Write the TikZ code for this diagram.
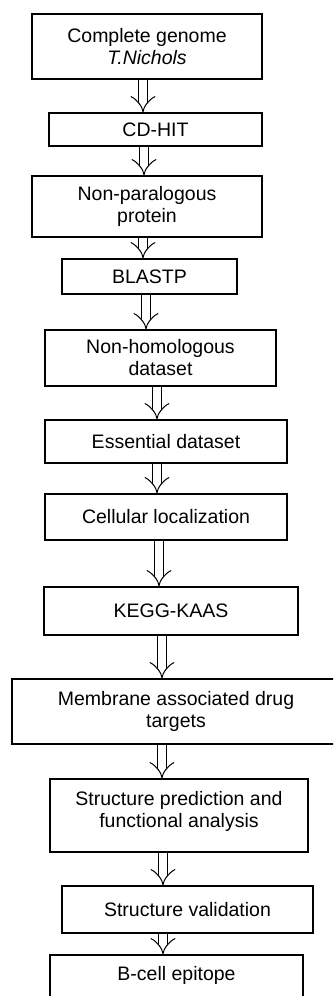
\documentclass[tikz,border=0pt]{standalone}
\usepackage{fontspec}
\setmainfont{Liberation Sans}
\usetikzlibrary{arrows.meta}

\tikzset{
  stepbox/.style={draw, line width=1.1pt, inner sep=0pt, align=center,
    font=\fontsize{19.5}{22}\selectfont},
  flow/.style={double, double distance=8pt, line width=1pt, -{Implies[length=6pt,width=15pt]}}
}

\begin{document}
\begin{tikzpicture}[x=1pt,y=-1pt]
\useasboundingbox (0,0) rectangle (333,996);
\clip (0,0) rectangle (333,996);

%%% boxes
\node[stepbox, minimum width=230, minimum height=65] (genome) at (147,46.5) {Complete genome\\\textit{T.Nichols}};
\node[stepbox, minimum width=213, minimum height=33] (cdhit) at (155.5,129.5) {CD-HIT};
\node[stepbox, minimum width=230, minimum height=61] (nonpara) at (147,206.5) {Non-paralogous\\protein};
\node[stepbox, minimum width=175, minimum height=35] (blastp) at (149.5,276.5) {BLASTP};
\node[stepbox, minimum width=231, minimum height=56] (nonhom) at (160.5,358) {Non-homologous\\dataset};
\node[stepbox, minimum width=242, minimum height=43] (essent) at (166,441.5) {Essential dataset};
\node[stepbox, minimum width=242, minimum height=46] (cellloc) at (166,517) {Cellular localization};
\node[stepbox, minimum width=254, minimum height=48] (kegg) at (171,611) {KEGG-KAAS};
\node[stepbox, minimum width=328, minimum height=65] (membr) at (176,711.5) {Membrane associated drug\\targets};
\node[stepbox, minimum width=258, minimum height=73, text depth=12pt] (struct) at (179,815.5) {Structure prediction and\\functional analysis};
\node[stepbox, minimum width=251, minimum height=47] (valid) at (187.5,909.5) {Structure validation};
\node[stepbox, minimum width=253, minimum height=70, text depth=34pt] (bcell) at (176.5,990) {B-cell epitope};

%%% arrows
\draw[flow] (143,0 |- genome.south) -- (143,0 |- cdhit.north);
\draw[flow] (144,0 |- cdhit.south) -- (144,0 |- nonpara.north);
\draw[flow] (143,0 |- nonpara.south) -- (143,0 |- blastp.north);
\draw[flow] (146,0 |- blastp.south) -- (146,0 |- nonhom.north);
\draw[flow] (157,0 |- nonhom.south) -- (157,0 |- essent.north);
\draw[flow] (157,0 |- essent.south) -- (157,0 |- cellloc.north);
\draw[flow] (159,0 |- cellloc.south) -- (159,0 |- kegg.north);
\draw[flow] (162,0 |- kegg.south) -- (162,0 |- membr.north);
\draw[flow] (162,0 |- membr.south) -- (162,0 |- struct.north);
\draw[flow] (163,0 |- struct.south) -- (163,0 |- valid.north);
\draw[flow] (163,0 |- valid.south) -- (163,0 |- bcell.north);
\end{tikzpicture}
\end{document}
